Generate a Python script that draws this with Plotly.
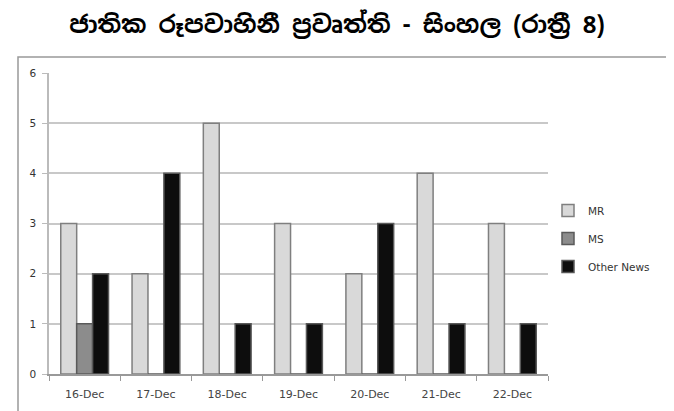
import plotly.graph_objects as go

categories = ["16-Dec", "17-Dec", "18-Dec", "19-Dec", "20-Dec", "21-Dec", "22-Dec"]
mr = [3, 2, 5, 3, 2, 4, 3]
ms = [1, 0, 0, 0, 0, 0, 0]
other_news = [2, 4, 1, 1, 3, 1, 1]
title_text = "ජාතික රූපවාහිනී ප්‍රවෘත්ති - සිංහල (රාත්‍රී 8)"

fig = go.Figure()
fig.add_trace(go.Bar(name="MR", x=categories, y=mr, legendgroup="a",
                     marker=dict(color="#d9d9d9", line=dict(color="#7f7f7f", width=1.5))))
fig.add_trace(go.Bar(name="MS", x=categories, y=ms, legendgroup="b",
                     marker=dict(color="#8c8c8c", line=dict(color="#5a5a5a", width=1.5))))
fig.add_trace(go.Bar(name="Other News", x=categories, y=other_news, legendgroup="c",
                     marker=dict(color="#0d0d0d", line=dict(color="#595959", width=1.5))))

fig.update_layout(
    width=666, height=403,
    paper_bgcolor="white", plot_bgcolor="white",
    margin=dict(l=41, r=126, t=65, b=37),
    barmode="group", bargap=0.33, bargroupgap=0.0,
    title=dict(text="<b>" + title_text + "</b>", x=0.494, xanchor="center", y=0.958, yanchor="middle",
               font=dict(family="Noto Sans Sinhala, Noto Sans, sans-serif", size=24, color="black")),
    legend=dict(x=1.0, y=0.591, xanchor="left", yanchor="top",
                font=dict(family="DejaVu Sans", size=10.5, color="#333333"),
                itemwidth=30, tracegroupgap=9, bgcolor="rgba(0,0,0,0)"),
    showlegend=True,
    font=dict(family="DejaVu Sans", size=10, color="#333333"),
)
fig.update_xaxes(showline=True, linecolor="#999999", linewidth=1.5, ticks="outside",
                 tickson="boundaries", ticklen=5, tickcolor="#999999", showgrid=False,
                 ticklabelstandoff=9, automargin=False,
                 tickfont=dict(size=11, color="#444444"))
fig.update_yaxes(range=[0, 6], dtick=1, showline=True, linecolor="#bbbbbb", linewidth=1.5,
                 ticks="outside", ticklen=5, tickcolor="#bbbbbb", showgrid=True,
                 gridcolor="#c8c8c8", gridwidth=1.5, zeroline=False,
                 ticklabelstandoff=4, automargin=False,
                 tickfont=dict(size=10.5, color="#333333"))
fig.add_shape(type="rect", xref="paper", yref="paper",
              x0=-31/499, x1=1.5, y0=-0.5, y1=317/301,
              line=dict(color="#999999", width=1.5), fillcolor="rgba(0,0,0,0)", layer="below")
fig.write_html("out.html")
